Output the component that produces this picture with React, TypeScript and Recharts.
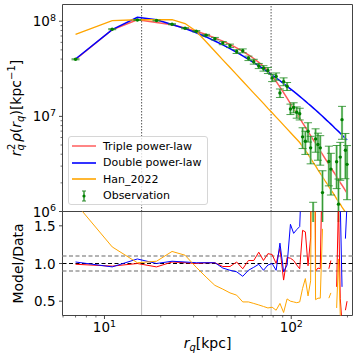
import React from 'react';
import {
  ComposedChart,
  Line,
  Scatter,
  ErrorBar,
  XAxis,
  YAxis,
  ReferenceLine,
  ReferenceArea,
  Legend,
} from 'recharts';

const FONT = 'DejaVu Sans';

// radial bins (kpc)
const radii = [
  7, 11, 15, 19, 23, 27, 31, 35, 39, 43, 47, 51, 55, 59, 63, 67, 71, 75, 79, 83, 87, 91, 95, 99,
  103, 107, 111, 115, 119, 123, 127, 131, 135, 139, 143, 147, 151, 155, 159, 163, 167, 171, 175,
  179, 183, 187, 191, 195, 199,
];

const obsValues = [
  3.98e7, 8.25e7, 1.03e8, 1.017e8, 9.31e7, 8.45e7, 7.86e7, 7.14e7, 6.56e7, 5.89e7, 5.52e7, 4.8e7,
  4.89e7, 4.08e7, 3.76e7, 3.39e7, 3.2e7, 3.04e7, 2.54e7, 2.63e7, 1.76e7, 2.32e7, 2.07e7, 1.195e7,
  1.24e7, 1.107e7, 1.067e7, 6.09e6, 5.48e6, 6.97e6, 4.67e6, 6.0e5, 5.8e6, 5.06e6, 4.67e6, 1.58e6,
  null, null, 3.36e6, 2.79e6, null, null, 3.34e6, 1.195e6, 3.73e6, 9.24e6, null, 4.41e6, 3.13e6,
];

const obsErrors = [
  5e5, 1.0e6, 1.2e6, 1.2e6, 1.2e6, 1.2e6, 1.3e6, 1.4e6, 2.0e6, 2.2e6, 2.3e6, 2.2e6, 2.3e6, 2.2e6,
  2.2e6, 2.1e6, 2.1e6, 2.2e6, 2.2e6, 2.3e6, 1.8e6, 2.2e6, 2.0e6, 1.5e6, 1.5e6, 1.5e6, 1.5e6, 1.5e6,
  1.5e6, 1.6e6, 1.5e6, 6.5e5, 1.6e6, 1.6e6, 1.6e6, 1.1e6, null, null, 1.5e6, 1.3e6, null, null,
  1.6e6, 1.0e6, 1.6e6, 3.5e6, null, 2.2e6, 1.8e6,
];

const tripleModel = [
  3.96e7, 8.15e7, 1.037e8, 9.72e7, 9.19e7, 8.49e7, 7.86e7, 7.26e7, 6.69e7, 6.18e7, 5.69e7, 5.25e7,
  4.83e7, 4.42e7, 4.06e7, 3.7e7, 3.37e7, 3.0e7, 2.66e7, 2.33e7, 2.03e7, 1.78e7, 1.553e7, 1.364e7,
  1.206e7, 1.07e7, 9.58e6, 8.55e6, 7.71e6, 6.95e6, 6.29e6, 5.71e6, 5.21e6, 4.74e6, 4.34e6, 3.99e6,
  3.67e6, 3.38e6, 3.13e6, 2.9e6, 2.68e6, 2.5e6, 2.32e6, 2.16e6, 2.01e6, 1.89e6, 1.77e6, 1.66e6,
  1.56e6,
];

const doubleModel = [
  4.01e7, 8.15e7, 1.101e8, 1.037e8, 9.26e7, 8.37e7, 7.57e7, 6.84e7, 6.2e7, 5.64e7, 5.15e7, 4.72e7,
  4.33e7, 3.98e7, 3.67e7, 3.4e7, 3.15e7, 2.92e7, 2.72e7, 2.54e7, 2.37e7, 2.21e7, 2.07e7, 1.948e7,
  1.83e7, 1.723e7, 1.622e7, 1.531e7, 1.448e7, 1.367e7, 1.297e7, 1.23e7, 1.166e7, 1.107e7, 1.052e7,
  1.002e7, 9.53e6, 9.08e6, 8.68e6, 8.29e6, 7.92e6, 7.56e6, 7.24e6, 6.95e6, 6.66e6, 6.36e6, 6.11e6,
  5.88e6, 5.64e6,
];

const hanModel = [
  7.26e7, 1.017e8, 1.037e8, 1.042e8, 1.037e8, 9.46e7, 7.86e7, 6.08e7, 4.84e7, 3.93e7, 3.27e7,
  2.75e7, 2.34e7, 2.02e7, 1.756e7, 1.546e7, 1.37e7, 1.215e7, 1.091e7, 9.83e6, 8.91e6, 8.09e6,
  7.38e6, 6.76e6, 6.22e6, 5.74e6, 5.31e6, 4.82e6, 4.38e6, 3.98e6, 3.61e6, 3.28e6, 3.02e6, 2.74e6,
  2.52e6, 2.32e6, 2.13e6, 1.98e6, 1.82e6, 1.69e6, 1.58e6, 1.47e6, 1.36e6, 1.27e6, 1.195e6,
  1.112e6, 1.047e6, 9.86e5, 9.28e5,
];

// model / data
const ratioTriple = [
  0.99, 0.965, 1.0, 0.955, 1.02, 1.01, 1.0, 1.01, 1.01, 0.96, 0.96, 1.02, 0.93, 1.04, 1.04, 1.15,
  1.04, 1.13, 1.12, 1.0, 1.2, 0.78, 1.08, 1.07, 1.04, 0.98, 0.93, 1.44, 1.42, 0.97, 1.34, 9.5, 0.9,
  0.94, 0.93, 2.52, null, null, 0.93, 1.04, null, null, 0.69, 1.81, 0.54, 0.2, null, 0.38, 0.5,
];

const ratioDouble = [
  1.02, 0.955, 1.06, 1.0, 1.03, 1.02, 1.01, 1.01, 1.01, 0.94, 0.91, 0.89, 0.83, 0.91, 0.95, 0.99,
  0.91, 0.98, 1.0, 0.91, 1.27, 0.89, 0.98, 1.52, 1.4, 1.45, 1.49, 2.5, 2.64, 1.96, 2.4, 20, 2.0,
  2.0, 2.1, 6.3, null, null, 2.3, 2.5, null, null, 2.3, 5.3, 1.79, 0.69, null, 1.33, 1.8,
];

const ratioHan = [
  1.8, 1.22, 1.01, 1.03, 1.16, 1.11, 0.95, 0.82, 0.71, 0.66, 0.61, 0.58, 0.49, 0.49, 0.47, 0.45,
  0.43, 0.41, 0.42, 0.38, 0.47, 0.35, 0.53, 0.5, 0.49, 0.48, 0.49, 0.67, 0.8, 0.57, 0.77, 5.5, 0.52,
  0.54, 0.54, 1.46, null, null, 0.54, 0.61, null, null, 0.41, 1.06, 0.32, 0.12, null, 0.22, 0.3,
];

const scaleRadii = [15.8, 78];

const xTicks = [6, 7, 8, 9, 10, 20, 30, 40, 50, 60, 70, 80, 90, 100, 200];
const xMajor = [10, 100];
const densityTicks = [
  1e6, 2e6, 3e6, 4e6, 5e6, 6e6, 7e6, 8e6, 9e6, 1e7, 2e7, 3e7, 4e7, 5e7, 6e7, 7e7, 8e7, 9e7, 1e8,
];
const densityMajor = [1e6, 1e7, 1e8];
const ratioTicks = [0.5, 1.0, 1.5];

const X_DOMAIN: [number, number] = [5.96, 212.8];
const DENSITY_DOMAIN: [number, number] = [1e6, 1.5e8];
const RATIO_DOMAIN: [number, number] = [0.31, 1.69];

const topRows = radii.map((r, i) => ({
  r,
  triple: tripleModel[i],
  double: doubleModel[i],
  han: hanModel[i],
}));

const obsRows = radii
  .map((r, i) => ({ r, obs: obsValues[i], e: obsErrors[i] }))
  .filter(d => d.obs != null)
  .map(d => ({
    r: d.r,
    obs: d.obs as number,
    err: [Math.min(d.e as number, (d.obs as number) * 0.95), d.e as number],
  }));

const ratioRows = radii.map((r, i) => ({
  r,
  triple: ratioTriple[i],
  double: ratioDouble[i],
  han: ratioHan[i],
}));

function DensityTick(props: any) {
  const { x, y, payload } = props;
  const major = densityMajor.includes(payload.value);
  const exp = Math.round(Math.log10(payload.value));
  return (
    <g>
      <line x1={x} x2={x - (major ? 3.5 : 2)} y1={y} y2={y} stroke="#333" strokeWidth={major ? 0.9 : 0.7} />
      {major && (
        <text x={x - 6.5} y={y + 5} textAnchor="end" fontFamily={FONT} fontSize={13.5} fill="#000">
          <tspan>10</tspan>
          <tspan dy={-5.5} fontSize={9.5}>{exp}</tspan>
        </text>
      )}
    </g>
  );
}

function RatioTick(props: any) {
  const { x, y, payload } = props;
  return (
    <g>
      <line x1={x} x2={x - 3.5} y1={y} y2={y} stroke="#333" strokeWidth={0.9} />
      <text x={x - 7} y={y + 5} textAnchor="end" fontFamily={FONT} fontSize={13.5} fill="#000">
        {payload.value.toFixed(1)}
      </text>
    </g>
  );
}

function XTick(props: any) {
  const { x, y, payload } = props;
  const major = xMajor.includes(payload.value);
  const exp = Math.round(Math.log10(payload.value));
  return (
    <g>
      <line x1={x} x2={x} y1={y} y2={y + (major ? 3.5 : 2)} stroke="#333" strokeWidth={major ? 0.9 : 0.7} />
      {major && (
        <text x={x} y={y + 16.5} textAnchor="middle" fontFamily={FONT} fontSize={13.5} fill="#000">
          <tspan>10</tspan>
          <tspan dy={-5.5} fontSize={9.5}>{exp}</tspan>
        </text>
      )}
    </g>
  );
}

function DensityLabel(props: any) {
  const vb = props.viewBox || { x: 0, y: 4.3, width: 62.3, height: 207 };
  const cx = vb.x + 20.5;
  const cy = vb.y + vb.height / 2;
  return (
    <text
      transform={`translate(${cx},${cy}) rotate(-90)`}
      textAnchor="middle"
      fontFamily={FONT}
      fontSize={14}
      fill="#000"
    >
      <tspan fontStyle="italic">r</tspan>
      <tspan fontStyle="italic" fontSize={10} dy={3.5}>q</tspan>
      <tspan fontSize={10} dx={-5.8} dy={-9.5}>2</tspan>
      <tspan fontStyle="italic" dx={1.5} dy={6}>ρ</tspan>
      <tspan>(</tspan>
      <tspan fontStyle="italic">r</tspan>
      <tspan fontStyle="italic" fontSize={10} dy={3.5}>q</tspan>
      <tspan dy={-3.5}>)[kpc</tspan>
      <tspan fontSize={10} dy={-6}>−1</tspan>
      <tspan dy={6}>]</tspan>
    </text>
  );
}

function RatioLabel(props: any) {
  const vb = props.viewBox || { x: 0, y: 0.5, width: 62.3, height: 103.5 };
  const cx = vb.x + 23;
  const cy = vb.y + vb.height / 2;
  return (
    <text
      transform={`translate(${cx},${cy}) rotate(-90)`}
      textAnchor="middle"
      fontFamily={FONT}
      fontSize={14}
      fill="#000"
    >
      Model/Data
    </text>
  );
}

function RadiusLabel(props: any) {
  const vb = props.viewBox || { x: 62.3, y: 104, width: 290, height: 43 };
  return (
    <text x={vb.x + vb.width / 2} y={vb.y + 32} textAnchor="middle" fontFamily={FONT} fontSize={14} fill="#000">
      <tspan fontStyle="italic">r</tspan>
      <tspan fontStyle="italic" fontSize={10} dy={3.5}>q</tspan>
      <tspan dy={-3.5}>[kpc]</tspan>
    </text>
  );
}

const legendItems = [
  { name: 'Triple power-law', color: 'red', opacity: 0.6 },
  { name: 'Double power-law', color: 'blue', opacity: 1 },
  { name: 'Han_2022', color: 'orange', opacity: 1 },
  { name: 'Observation', color: 'green', opacity: 1 },
];

function LegendBox() {
  return (
    <div
      style={{
        width: 140,
        height: 69,
        boxSizing: 'border-box',
        border: '1px solid #d6d6d6',
        borderRadius: 3,
        background: 'rgba(255,255,255,0.8)',
        fontFamily: FONT,
        fontSize: 11,
        color: '#000',
        paddingTop: 1,
      }}
    >
      {legendItems.map(item => (
        <div key={item.name} style={{ height: 16.5, display: 'flex', alignItems: 'center' }}>
          <svg width={34} height={16} style={{ flex: 'none' }}>
            {item.name === 'Observation' ? (
              <g>
                <line x1={15} x2={15} y1={3} y2={13} stroke="#8fd08f" strokeWidth={2} />
                <line x1={15} x2={15} y1={3} y2={13} stroke="#2e8b2e" strokeWidth={0.8} />
                <line x1={13} x2={17} y1={3} y2={3} stroke="#2e8b2e" strokeWidth={1} />
                <line x1={13} x2={17} y1={13} y2={13} stroke="#2e8b2e" strokeWidth={1} />
                <circle cx={15} cy={8} r={1.6} fill="green" />
              </g>
            ) : (
              <line x1={3} x2={27} y1={8} y2={8} stroke={item.color} strokeOpacity={item.opacity} strokeWidth={1.6} />
            )}
          </svg>
          <span style={{ whiteSpace: 'nowrap' }}>{item.name}</span>
        </div>
      ))}
    </div>
  );
}

export default function App() {
  return (
    <div style={{ position: 'absolute', left: 0, top: 0, width: 357, height: 358, background: '#fff' }}>
      <div style={{ position: 'absolute', left: 0, top: 0 }}>
        <ComposedChart
          width={357}
          height={222}
          data={topRows}
          margin={{ top: 4.5, right: 4.5, bottom: 10.5, left: 0 }}
        >
          <XAxis dataKey="r" type="number" scale="log" domain={X_DOMAIN} allowDataOverflow hide />
          <YAxis
            type="number"
            scale="log"
            domain={DENSITY_DOMAIN}
            allowDataOverflow
            ticks={densityTicks}
            interval={0}
            width={62.5}
            tickSize={0}
            tickMargin={0}
            tickLine={false}
            axisLine={false}
            tick={<DensityTick />}
            label={<DensityLabel />}
          />
          {scaleRadii.map(r => (
            <ReferenceLine key={r} x={r} stroke="#666" strokeWidth={1.1} strokeDasharray="1.5 1.5" />
          ))}
          <Line dataKey="triple" stroke="red" strokeOpacity={0.65} strokeWidth={1.5} dot={false} isAnimationActive={false} />
          <Line dataKey="double" stroke="blue" strokeWidth={1.5} dot={false} isAnimationActive={false} />
          <Line dataKey="han" stroke="orange" strokeWidth={1.3} dot={false} isAnimationActive={false} />
          <Scatter
            data={obsRows}
            dataKey="obs"
            fill="green"
            isAnimationActive={false}
            shape={(p: any) => <circle cx={p.cx} cy={p.cy} r={1.7} fill="green" />}
          >
            <ErrorBar dataKey="err" direction="y" stroke="#8fd08f" strokeWidth={2.2} width={0} />
            <ErrorBar dataKey="err" direction="y" stroke="#1f8a1f" strokeWidth={0.8} width={4} />
          </Scatter>
          <ReferenceArea
            x1={X_DOMAIN[0]}
            x2={X_DOMAIN[1]}
            y1={DENSITY_DOMAIN[0]}
            y2={DENSITY_DOMAIN[1]}
            fill="none"
            stroke="#444"
            strokeWidth={1}
            ifOverflow="visible"
          />
          <Legend
            layout="vertical"
            align="center"
            verticalAlign="middle"
            content={() => <LegendBox />}
            wrapperStyle={{ left: 68, top: 136, width: 140, height: 69 }}
          />
        </ComposedChart>
      </div>
      <div style={{ position: 'absolute', left: 0, top: 211 }}>
        <ComposedChart
          width={357}
          height={147}
          data={ratioRows}
          margin={{ top: 0.5, right: 4.5, bottom: 0, left: 0 }}
        >
          <XAxis
            dataKey="r"
            type="number"
            scale="log"
            domain={X_DOMAIN}
            allowDataOverflow
            ticks={xTicks}
            interval={0}
            height={42.5}
            tickSize={0}
            tickMargin={0}
            tickLine={false}
            axisLine={false}
            tick={<XTick />}
            label={<RadiusLabel />}
          />
          <YAxis
            type="number"
            domain={RATIO_DOMAIN}
            allowDataOverflow
            ticks={ratioTicks}
            interval={0}
            width={62.5}
            tickSize={0}
            tickMargin={0}
            tickLine={false}
            axisLine={false}
            tick={<RatioTick />}
            label={<RatioLabel />}
          />
          {scaleRadii.map(r => (
            <ReferenceLine key={r} x={r} stroke="#555" strokeWidth={0.8} strokeDasharray="1 1" />
          ))}
          <ReferenceLine y={1.1} stroke="#9a9a9a" strokeWidth={1.4} strokeDasharray="4 2.5" />
          <ReferenceLine y={0.9} stroke="#9a9a9a" strokeWidth={1.4} strokeDasharray="4 2.5" />
          <ReferenceLine y={1.0} stroke="#000" strokeWidth={1.1} strokeDasharray="4 2.5" />
          <Line dataKey="triple" stroke="red" strokeWidth={1} dot={false} isAnimationActive={false} />
          <Line dataKey="double" stroke="blue" strokeWidth={1} dot={false} isAnimationActive={false} />
          <Line dataKey="han" stroke="orange" strokeWidth={1} dot={false} isAnimationActive={false} />
          <ReferenceArea
            x1={X_DOMAIN[0]}
            x2={X_DOMAIN[1]}
            y1={RATIO_DOMAIN[0]}
            y2={RATIO_DOMAIN[1]}
            fill="none"
            stroke="#444"
            strokeWidth={1}
            ifOverflow="visible"
          />
        </ComposedChart>
      </div>
    </div>
  );
}
